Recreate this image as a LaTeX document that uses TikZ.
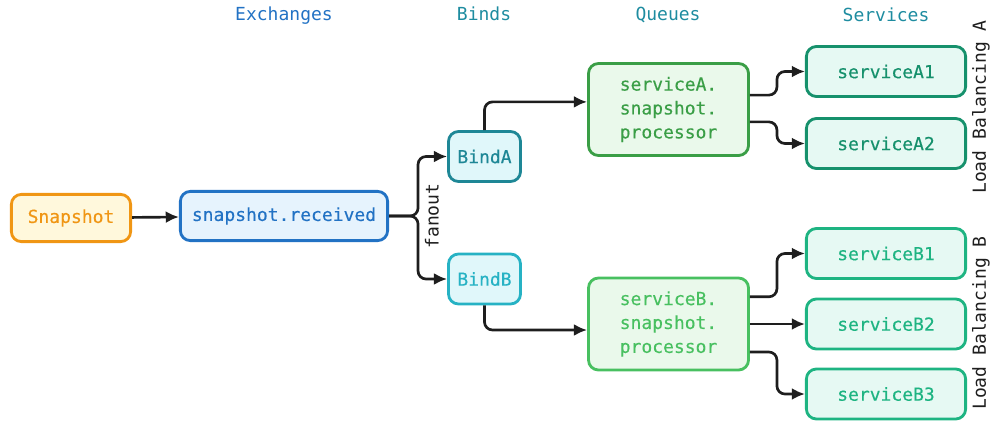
\documentclass[tikz,border=0pt]{standalone}
\usepackage{fontspec}
\setmonofont{DejaVu Sans Mono}[BoldFont={DejaVu Sans Mono}, BoldFeatures={FakeBold=0.3}]
\usetikzlibrary{arrows.meta}

\definecolor{snapLine}{RGB}{240,150,20}
\definecolor{snapFill}{RGB}{255,248,220}
\definecolor{exLine}{RGB}{34,114,196}
\definecolor{exFill}{RGB}{230,243,253}
\definecolor{bindALine}{RGB}{30,135,150}
\definecolor{bindBLine}{RGB}{38,178,196}
\definecolor{bindFill}{RGB}{224,247,250}
\definecolor{qALine}{RGB}{58,158,70}
\definecolor{qBLine}{RGB}{72,192,96}
\definecolor{qFill}{RGB}{234,249,235}
\definecolor{svALine}{RGB}{22,145,108}
\definecolor{svBLine}{RGB}{30,180,130}
\definecolor{svFill}{RGB}{230,249,243}
\definecolor{headTeal}{RGB}{30,140,160}
\definecolor{arrowGray}{RGB}{30,30,30}

\begin{document}
\begin{tikzpicture}
                [x=0.025cm, y=-0.025cm,
                box/.style={draw, rounded corners=0.25cm, line width=2pt, align=center, inner sep=0pt,
                  font=\ttfamily\bfseries\fontsize{12.8}{17}\selectfont},
                snapnode/.style={box, draw=snapLine, fill=snapFill, text=snapLine, minimum width=2.98cm, minimum height=1.18cm},
                exnode/.style={box, draw=exLine, fill=exFill, text=exLine, minimum width=5.18cm, minimum height=1.23cm},
                bindnode/.style={box, fill=bindFill, minimum width=1.8cm, minimum height=1.25cm},
                queuenode/.style={box, fill=qFill, minimum width=4.0cm, minimum height=2.3cm},
                servicenode/.style={box, fill=svFill, minimum width=3.98cm, minimum height=1.25cm},
                header/.style={font=\ttfamily\fontsize{12.8}{15}\selectfont, text=headTeal},
                side/.style={font=\ttfamily\fontsize{12.8}{15}\selectfont, text=arrowGray, rotate=90},
                conn/.style={draw=arrowGray, line width=1.9pt, rounded corners=0.2cm,
                  -{Latex[length=3.3mm, width=3mm]}},]

                \useasboundingbox (0,0) rectangle (990,421);

                % column headings
                \node[header, text=exLine] (hEx) at (284,16) {Exchanges};
                \node[header] (hBind) at (484,14) {Binds};
                \node[header] (hQueue) at (668,15) {Queues};
                \node[header] (hSvc) at (886,15) {Services};

                \node[snapnode] (snap) at (71,218) {Snapshot};
                \node[exnode] (recv) at (284,216) {snapshot.received};

                \node[bindnode, draw=bindALine, text=bindALine] (bindA) at (484.5,156.5) {BindA};
                \node[bindnode, draw=bindBLine, text=bindBLine] (bindB) at (484.5,279) {BindB};

                \node[queuenode, draw=qALine, text=qALine] (qA) at (668.5,109.5) {serviceA.\\snapshot.\\processor};
                \node[queuenode, draw=qBLine, text=qBLine] (qB) at (668.5,324) {serviceB.\\snapshot.\\processor};

                \node[servicenode, draw=svALine, text=svALine] (sA1) at (886,71.5) {serviceA1};
                \node[servicenode, draw=svALine, text=svALine] (sA2) at (886,143.5) {serviceA2};
                \node[servicenode, draw=svBLine, text=svBLine] (sB1) at (886,253.5) {serviceB1};
                \node[servicenode, draw=svBLine, text=svBLine] (sB2) at (886,324) {serviceB2};
                \node[servicenode, draw=svBLine, text=svBLine] (sB3) at (886,394) {serviceB3};

                \node[side] (fan) at (432,216) {fanout};
                \node[side] (lbA) at (981,107) {Load Balancing A};
                \node[side] (lbB) at (981,323) {Load Balancing B};

                \draw[conn] (snap) -- (recv);
                \draw[conn] (recv.east) -- ++(29,0) |- (bindA.west);
                \draw[conn] (recv.east) -- ++(29,0) |- (bindB.west);
                \draw[conn] (bindA.north) |- ([yshift=0.19cm]qA.west);
                \draw[conn] (bindB.south) |- ([yshift=-0.15cm]qB.west);

                \draw[conn] ([yshift=0.36cm]qA.east) -- ++(27,0) |- (sA1.west);
                \draw[conn] ([yshift=-0.31cm]qA.east) -- ++(27,0) |- (sA2.west);
                \draw[conn] ([yshift=0.68cm]qB.east) -- ++(27,0) |- (sB1.west);
                \draw[conn] (qB.east) -- (sB2.west);
                \draw[conn] ([yshift=-0.7cm]qB.east) -- ++(27,0) |- (sB3.west);

            \end{tikzpicture}
\end{document}
